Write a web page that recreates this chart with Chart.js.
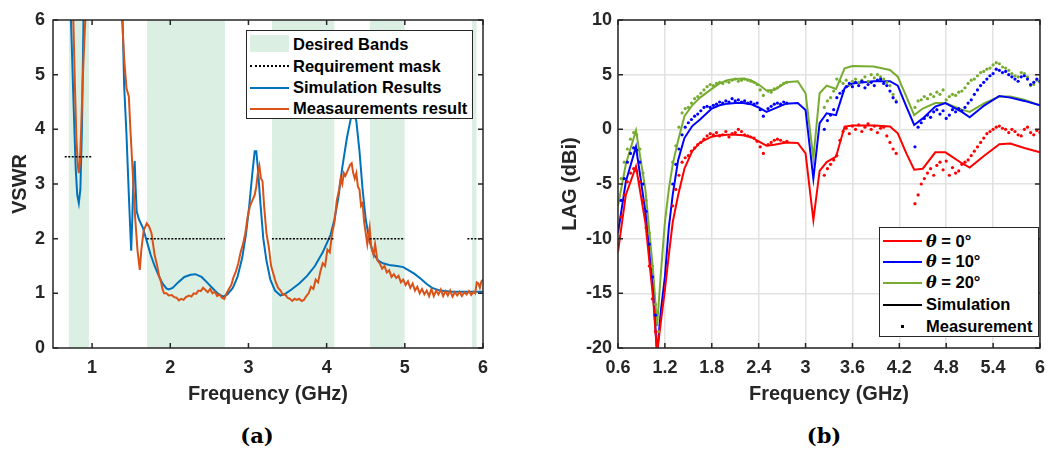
<!DOCTYPE html>
<html lang="pt-BR">
<head>
<meta charset="utf-8">
<title>VSWR e LAG</title>
<script src="https://cdn.jsdelivr.net/npm/chart.js@4.4.1/dist/chart.umd.min.js"></script>
<style>
    body { margin: 0; background: #fff; }
    #figura { position: relative; width: 1054px; height: 454px; overflow: hidden; font-family: 'Liberation Sans', Arial, sans-serif; color: #000; }
    #figura canvas { position: absolute; top: 0; }
    #graficoVswr { left: 0; }
    #graficoLag { left: 527px; }
    .legenda { position: absolute; background: #fff; border: 1.5px solid #262626; box-sizing: border-box; font-weight: bold; font-size: 16.5px; }
    .item { position: absolute; left: 0; right: 0; height: 21px; line-height: 21px; white-space: nowrap; }
    .item span.txt { position: absolute; left: 46px; top: 0; }
    .amostra { position: absolute; left: 3px; width: 39px; }
    .theta { font-family: 'DejaVu Serif', serif; font-style: italic; font-weight: bold; font-size: 16px; }
    .legenda-fig { position: absolute; top: 423px; font-family: 'DejaVu Serif', serif; font-weight: bold; font-size: 21px; width: 60px; text-align: center; }
</style>
</head>
<body>
<div id="figura">
    <canvas id="graficoVswr" width="527" height="410"></canvas>
    <canvas id="graficoLag" width="527" height="410"></canvas>

    <!-- legenda do gráfico (a) -->
    <div class="legenda" style="left:246px; top:30px; width:227px; height:89px;">
        <div class="item" style="top:3px;"><div class="amostra" style="top:0.5px; height:17px; background:#dbefe3;"></div><span class="txt">Desired Bands</span></div>
        <div class="item" style="top:24.5px;"><div class="amostra" style="top:9.5px; height:0; border-top:2px dotted #000;"></div><span class="txt">Requirement mask</span></div>
        <div class="item" style="top:46px;"><div class="amostra" style="top:9.5px; height:2px; background:#0072BD;"></div><span class="txt">Simulation Results</span></div>
        <div class="item" style="top:67px;"><div class="amostra" style="top:9.5px; height:2px; background:#D95319;"></div><span class="txt">Measaurements result</span></div>
    </div>

    <!-- legenda do gráfico (b) -->
    <div class="legenda" style="left:879px; top:227px; width:160px; height:110px;">
        <div class="item" style="top:2.5px;"><div class="amostra" style="top:9.5px; height:2px; background:#FF0000;"></div><span class="txt"><span class="theta">θ</span> = 0°</span></div>
        <div class="item" style="top:23px;"><div class="amostra" style="top:9.5px; height:2px; background:#0000FF;"></div><span class="txt"><span class="theta">θ</span> = 10°</span></div>
        <div class="item" style="top:44px;"><div class="amostra" style="top:9.5px; height:2px; background:#77AC30;"></div><span class="txt"><span class="theta">θ</span> = 20°</span></div>
        <div class="item" style="top:66px;"><div class="amostra" style="top:9.5px; height:2px; background:#000;"></div><span class="txt">Simulation</span></div>
        <div class="item" style="top:87.5px;"><div class="amostra" style="top:9px; left:21px; width:3px; height:3px; background:#000;"></div><span class="txt">Measurement</span></div>
    </div>

    <div class="legenda-fig" style="left:227px;">(a)</div>
    <div class="legenda-fig" style="left:794px;">(b)</div>
</div>

<script>
// ---------- Dados do gráfico (a): VSWR ----------
const ticksVswrX = [1, 2, 3, 4, 5, 6];
const ticksVswrY = [0, 1, 2, 3, 4, 5, 6];

// faixas desejadas (GHz)
const faixasDesejadas = [[0.70, 0.96], [1.70, 2.70], [3.30, 4.10], [4.55, 5.00], [5.86, 5.92]];

// máscara de requisito: [inicio, fim, VSWR]
const mascara = [[0.65, 1.00, 3.5], [1.70, 2.70, 2], [3.30, 4.10, 2], [4.55, 5.00, 2], [5.80, 6.00, 2]];

const simVswrFreq = [
    0.50, 0.70, 0.73, 0.76, 0.79, 0.81, 0.83, 0.85, 0.87, 0.89,
    0.92, 1.30, 1.39, 1.41, 1.44, 1.47, 1.49, 1.50, 1.515, 1.53,
    1.545, 1.555, 1.57, 1.60, 1.65, 1.70, 1.75, 1.80, 1.85, 1.90,
    1.95, 1.98, 2.03, 2.10, 2.18, 2.26, 2.32, 2.40, 2.47, 2.55,
    2.62, 2.68, 2.73, 2.80, 2.86, 2.92, 2.97, 3.01, 3.05, 3.08,
    3.10, 3.12, 3.15, 3.19, 3.23, 3.28, 3.34, 3.41, 3.48, 3.55,
    3.65, 3.75, 3.85, 3.95, 4.05, 4.10, 4.15, 4.20, 4.26, 4.31,
    4.35, 4.38, 4.42, 4.46, 4.50, 4.55, 4.60, 4.66, 4.72, 4.80,
    4.90, 4.98, 5.05, 5.12, 5.20, 5.28, 5.35, 5.45, 5.60, 5.80,
    6.00
];
const simVswr = [
    12, 8, 6, 4.6, 3.3, 2.8, 2.65, 2.9, 4.0, 6,
    8, 12, 6, 4.8, 3.9, 2.8, 2.1, 1.78, 2.4, 3.2,
    3.42, 3.0, 2.5, 2.35, 2.2, 1.95, 1.7, 1.5, 1.33, 1.18,
    1.09, 1.07, 1.1, 1.2, 1.3, 1.34, 1.35, 1.3, 1.2, 1.08,
    0.98, 0.94, 0.98, 1.1, 1.3, 1.65, 2.1, 2.6, 3.2, 3.6,
    3.6, 3.3, 2.7, 2.0, 1.6, 1.25, 1.05, 0.96, 1.0, 1.07,
    1.18, 1.32, 1.5, 1.75, 2.07, 2.35, 2.75, 3.3, 3.85, 4.2,
    4.3, 4.15, 3.6, 2.9, 2.35, 1.95, 1.72, 1.6, 1.55, 1.52,
    1.5, 1.48, 1.42, 1.36, 1.27, 1.17, 1.1, 1.05, 1.03, 1.03,
    1.03
];

const medVswrFreq = [
    0.50, 0.74, 0.76, 0.78, 0.80, 0.82, 0.83, 0.845, 0.86, 0.88,
    0.90, 0.92, 0.95, 1.33, 1.385, 1.41, 1.44, 1.47, 1.49, 1.52,
    1.55, 1.58, 1.61, 1.63, 1.66, 1.70, 1.73, 1.76, 1.78, 1.80,
    1.83, 1.86, 1.88, 1.90, 1.92, 1.95, 1.98, 2.02, 2.05, 2.08,
    2.11, 2.14, 2.17, 2.20, 2.24, 2.27, 2.30, 2.33, 2.36, 2.39,
    2.42, 2.45, 2.48, 2.51, 2.54, 2.57, 2.60, 2.63, 2.66, 2.69,
    2.72, 2.75, 2.78, 2.81, 2.84, 2.87, 2.90, 2.93, 2.96, 2.99,
    3.02, 3.05, 3.08, 3.10, 3.12, 3.14, 3.16, 3.18, 3.20, 3.23,
    3.26, 3.29, 3.32, 3.35, 3.38, 3.41, 3.44, 3.47, 3.50, 3.53,
    3.56, 3.59, 3.62, 3.65, 3.68, 3.71, 3.74, 3.77, 3.80, 3.83,
    3.86, 3.89, 3.92, 3.95, 3.98, 4.01, 4.04, 4.07, 4.10, 4.13,
    4.16, 4.18, 4.20, 4.22, 4.24, 4.27, 4.30, 4.32, 4.34, 4.36,
    4.38, 4.40, 4.42, 4.44, 4.46, 4.48, 4.50, 4.52, 4.55, 4.57,
    4.60, 4.62, 4.65, 4.68, 4.71, 4.74, 4.77, 4.80, 4.83, 4.86,
    4.89, 4.92, 4.95, 4.98, 5.01, 5.04, 5.07, 5.10, 5.13, 5.16,
    5.19, 5.22, 5.25, 5.28, 5.31, 5.34, 5.37, 5.40, 5.43, 5.46,
    5.49, 5.52, 5.55, 5.58, 5.61, 5.64, 5.67, 5.70, 5.73, 5.76,
    5.79, 5.82, 5.85, 5.88, 5.90, 5.92, 5.94, 5.96, 5.98, 6.00
];
const medVswr = [
    12, 8, 6, 4.8, 3.8, 3.3, 3.2, 3.4, 4.0, 4.9,
    5.6, 6.2, 8, 9, 6, 5.3, 4.75, 4.6, 4.0, 3.2,
    2.4, 1.8, 1.43, 1.8, 2.15, 2.28, 2.22, 2.1, 1.9, 1.7,
    1.52, 1.3, 1.22, 1.08, 1.0, 1.0, 0.96, 0.97, 0.93, 0.92,
    0.87, 0.9, 0.88, 0.93, 0.96, 0.94, 1.0, 0.99, 1.05, 1.04,
    1.1, 1.06, 1.02, 1.08, 1.0, 1.03, 0.95, 0.98, 0.92, 0.9,
    1.0, 1.08, 1.15, 1.3, 1.4, 1.55, 1.75, 1.9, 2.1, 2.4,
    2.6, 2.7, 2.8, 2.95, 3.2, 3.33, 3.1, 3.05, 2.6, 2.1,
    1.85, 1.5, 1.35, 1.2, 1.1, 1.05, 0.97, 0.98, 0.92, 0.9,
    0.86, 0.9, 0.88, 0.9, 0.86, 0.88, 0.95, 1.0, 1.12, 1.08,
    1.25, 1.2, 1.4, 1.55, 1.5, 1.8, 1.75, 2.1, 2.3, 2.7,
    2.9, 3.1, 3.0, 3.2, 3.15, 3.25, 3.35, 3.38, 3.2, 3.1,
    3.2, 2.95, 2.9, 2.6, 2.65, 2.3, 2.1, 1.9, 2.2, 1.85,
    1.7, 1.9, 1.6, 1.55, 1.45, 1.5, 1.38, 1.42, 1.3, 1.35,
    1.28, 1.32, 1.2, 1.25, 1.15, 1.22, 1.1, 1.18, 1.05, 1.12,
    1.0, 1.08, 0.98, 1.05, 0.95, 1.08, 0.95, 1.05, 0.98, 1.07,
    0.95, 1.04, 0.96, 1.05, 0.94, 1.02, 0.96, 1.03, 0.95, 1.02,
    0.98, 1.04, 0.97, 1.03, 1.0, 1.2, 1.18, 1.1, 1.22, 1.25
];

// ---------- Dados do gráfico (b): LAG ----------
const ticksLagX = [0.6, 1.2, 1.8, 2.4, 3, 3.6, 4.2, 4.8, 5.4, 6];
const ticksLagY = [-20, -15, -10, -5, 0, 5, 10];

const simLagFreq = [
    0.60, 0.70, 0.83, 0.95, 1.05, 1.10, 1.15, 1.20, 1.25, 1.30,
    1.37, 1.45, 1.55, 1.65, 1.80, 1.90, 2.00, 2.10, 2.20, 2.30,
    2.40, 2.50, 2.60, 2.75, 2.90, 3.00, 3.10, 3.18, 3.27, 3.39,
    3.50, 3.60, 3.87, 4.08, 4.18, 4.29, 4.39, 4.50, 4.66, 4.79,
    5.00, 5.10, 5.29, 5.48, 5.62, 5.80, 6.00
];
const simLag0 = [
    -11.2, -6.0, -3.4, -8.5, -15.5, -20.5, -17.5, -14.7, -11.5, -8.5,
    -6.0, -3.6, -2.0, -1.2, -0.67, -0.55, -0.5, -0.5, -0.55, -0.7,
    -1.1, -1.5, -1.4, -1.2, -1.25, -2.2, -8.3, -3.8, -3.0, -2.5,
    0.25, 0.35, 0.35, 0.25, -0.36, -2.2, -3.7, -3.6, -2.1, -2.1,
    -3.1, -3.5, -2.4, -1.36, -1.3, -1.7, -2.1
];
const simLag10 = [
    -9.5, -4.8, -1.6, -7.5, -15, -20.5, -16.5, -13.5, -9, -6,
    -2.8, -0.8, 0.3, 0.9, 1.9, 2.2, 2.35, 2.4, 2.4, 2.3,
    2.0, 1.6, 1.9, 2.35, 2.4, 1.77, -4.5, 0.56, 1.47, 1.3,
    3.76, 4.2, 4.4, 4.4, 4.0, 2.08, 0.4, 1.0, 2.08, 2.4,
    1.6, 1.1, 2.2, 3.05, 2.9, 2.6, 2.2
];
const simLag20 = [
    -7.0, -3.2, -0.1, -5.5, -13, -18, -13, -8.5, -5.5, -3.2,
    -1.0, 1.2, 2.2, 2.9, 3.7, 4.2, 4.5, 4.6, 4.65, 4.5,
    4.1, 3.55, 3.6, 4.3, 4.4, 3.3, -2.65, 3.3, 4.0, 3.7,
    5.58, 5.8, 5.75, 5.43, 4.82, 3.0, 1.3, 1.9, 2.4, 2.4,
    1.8, 1.6, 2.4, 3.0, 3.0, 2.7, 2.2
];

const medLagFreq = [
    0.60, 0.64, 0.68, 0.72, 0.76, 0.80, 0.84, 0.88, 0.92, 0.96, 1.00, 1.04, 1.08, 1.12,
    1.30, 1.34, 1.38, 1.42, 1.46, 1.50, 1.54, 1.58, 1.62, 1.66,
    1.70, 1.74, 1.78, 1.82, 1.86, 1.90, 1.94, 1.98, 2.02, 2.06,
    2.10, 2.14, 2.18, 2.22, 2.26, 2.30, 2.34, 2.38, 2.42, 2.46,
    2.52, 2.56, 2.60, 2.64, 2.68, 2.72, 2.76,
    3.24, 3.28, 3.32, 3.36, 3.40, 3.44, 3.48, 3.52, 3.56, 3.60,
    3.64, 3.68, 3.72, 3.76, 3.80, 3.84, 3.88, 3.92, 3.96, 4.00,
    4.04, 4.08, 4.12, 4.16,
    4.40, 4.44, 4.48, 4.52, 4.56, 4.60, 4.64, 4.68, 4.72, 4.76,
    4.80, 4.84, 4.88, 4.92, 4.96, 5.00, 5.04, 5.08, 5.12, 5.16,
    5.20, 5.24, 5.28, 5.32, 5.36, 5.40, 5.44, 5.48, 5.52, 5.56,
    5.60, 5.64, 5.68, 5.72, 5.76, 5.80, 5.84, 5.88, 5.92, 5.96,
    6.00
];
const medLag0 = [
    -10.6, -8.0, -6.0, -4.8, -4.0, -3.6, -3.8, -4.8, -6.5, -9.0, -12.5, -15.5, -18.5, -20.5,
    -7.0, -5.5, -4.2, -3.0, -2.6, -2.4, -2.0, -1.7, -1.4, -1.2,
    -0.9, -0.6, -0.4, -0.5, -0.3, -0.6, -0.5, -0.2, -0.7, -0.4,
    -0.3, 0.0, -0.2, -0.5, -0.6, -0.7, -0.8, -1.1, -1.6, -2.2,
    -1.4, -1.2, -1.0, -0.9, -1.0, -1.2, -1.1,
    -4.2, -3.6, -3.2, -2.8, -2.4, -1.0, -0.2, 0.1, -0.4, 0.3,
    0.0, 0.4, -0.2, 0.2, 0.5, 0.0, 0.3, -0.3, 0.1, 0.2,
    -0.6, -1.2, -1.8, -2.2,
    -6.8, -6.0, -5.0, -4.5, -4.0, -3.6, -4.2, -3.3, -3.0, -3.7,
    -2.9, -4.2, -3.5, -4.0, -3.8, -3.2, -3.0, -2.8, -2.4, -2.0,
    -1.6, -1.2, -0.8, -0.4, -0.2, 0.0, 0.2, 0.3, 0.1, 0.0,
    -0.3, 0.0, -0.2, -0.5, -0.6, 0.0, 0.2, -0.3, -0.5, -0.1,
    -0.3
];
const medLag10 = [
    -8.8, -6.5, -4.5, -3.0, -2.2, -1.7, -1.9, -3.0, -5.0, -7.5, -10.5, -13.5, -17.0, -20.5,
    -5.0, -3.2, -1.8, -0.5, 0.2, 0.6, 0.9, 1.2, 1.4, 1.7,
    2.0, 2.1, 2.0, 2.2, 2.3, 2.5, 2.4, 2.6, 2.5, 2.8,
    2.6, 2.7, 2.5, 2.6, 2.4, 2.5, 2.3, 2.4, 1.8, 1.2,
    1.9, 2.1, 2.3, 2.4, 2.3, 2.5, 2.4,
    0.0, 0.8, 1.3, 1.8, 2.9, 3.3, 3.5, 3.9, 4.2, 3.9,
    4.3, 4.0, 4.4, 3.8, 4.1, 4.3, 4.0, 4.5, 4.6, 4.2,
    4.0, 3.5, 2.9, 2.5,
    -1.6, 0.2, 0.6, 1.0, 1.3, 1.1, 1.6, 1.8, 1.4, 1.7,
    1.0, 1.3, 1.8, 1.6, 1.9, 1.7, 2.0, 2.4, 2.7, 3.2,
    3.6, 4.0, 4.3, 4.6, 4.9, 5.1, 5.5, 5.4, 5.2, 5.3,
    5.0, 4.8, 4.6, 4.4, 4.8, 4.9, 4.6, 4.1, 4.3, 4.6,
    4.4
];
const medLag20 = [
    -6.5, -4.5, -3.0, -1.8, -0.9, -0.3, -0.5, -1.8, -4.0, -6.5, -9.5, -12.5, -16.0, -18.5,
    -3.0, -1.5, 0.2, 1.5, 1.9, 2.0, 2.4, 2.8, 3.0, 3.3,
    3.6, 3.9, 4.1, 4.0, 4.2, 4.3, 4.2, 4.4, 4.3, 4.5,
    4.6, 4.4, 4.5, 4.6, 4.5, 4.4, 4.3, 4.1, 3.6, 3.1,
    3.5, 3.4, 3.7, 3.8, 4.0, 4.2, 4.3,
    2.0, 2.6, 2.9, 3.5, 4.6, 4.4, 4.2, 4.5, 4.1, 4.4,
    4.6, 4.3, 4.5, 4.8, 4.4, 5.0, 4.7, 5.0, 4.8, 4.6,
    4.3, 4.0, 3.2, 2.6,
    2.0, 2.6, 2.7, 3.0, 2.8, 3.2, 3.0, 3.4, 3.2, 3.6,
    2.7, 3.0, 3.2, 3.1, 3.4, 3.5, 3.8, 4.2, 4.5, 4.6,
    4.9, 5.2, 5.3, 5.5, 5.6, 5.9, 6.1, 6.0, 5.7, 5.6,
    5.4, 5.1, 4.9, 4.8, 5.2, 5.1, 4.8, 4.0, 4.1, 4.5,
    4.3
];

// ---------- Funções auxiliares ----------
function juntarPontos(xs, ys) {
    return xs.map((x, i) => ({ x: x, y: ys[i] }));
}

const corTexto = '#262626';
const fonteTick = { family: "'Liberation Sans', Arial, sans-serif", size: 18, weight: 'bold' };
const fonteTitulo = { family: "'Liberation Sans', Arial, sans-serif", size: 20, weight: 'bold' };

// Desenha a moldura do eixo com as marcas para dentro (estilo MATLAB)
const pluginMoldura = {
    id: 'moldura',
    afterDatasetsDraw(chart) {
        const { ctx, chartArea: a, scales } = chart;
        const tam = 5;
        ctx.save();
        ctx.strokeStyle = corTexto;
        ctx.lineWidth = 1.5;
        ctx.beginPath();
        scales.x.ticks.forEach(t => {
            const px = scales.x.getPixelForValue(t.value);
            ctx.moveTo(px, a.bottom); ctx.lineTo(px, a.bottom - tam);
            ctx.moveTo(px, a.top); ctx.lineTo(px, a.top + tam);
        });
        scales.y.ticks.forEach(t => {
            const py = scales.y.getPixelForValue(t.value);
            ctx.moveTo(a.left, py); ctx.lineTo(a.left + tam, py);
            ctx.moveTo(a.right, py); ctx.lineTo(a.right - tam, py);
        });
        ctx.stroke();
        ctx.strokeRect(a.left, a.top, a.right - a.left, a.bottom - a.top);
        ctx.restore();
    }
};

// ---------- Gráfico (a) ----------
const datasetsVswr = [];

// máscara: trechos separados por null
const pontosMascara = [];
mascara.forEach(m => {
    pontosMascara.push({ x: m[0], y: m[2] }, { x: m[1], y: m[2] }, { x: m[1], y: null });
});
datasetsVswr.push({
    label: 'Requirement mask',
    data: pontosMascara,
    borderColor: '#000',
    borderWidth: 1.5,
    borderDash: [2, 1.5],
    pointRadius: 0,
    spanGaps: false,
    order: 0
});
datasetsVswr.push({
    label: 'Measaurements result',
    data: juntarPontos(medVswrFreq, medVswr),
    borderColor: '#D95319',
    borderWidth: 2,
    pointRadius: 0,
    order: 1
});
datasetsVswr.push({
    label: 'Simulation Results',
    data: juntarPontos(simVswrFreq, simVswr),
    borderColor: '#0072BD',
    borderWidth: 2,
    pointRadius: 0,
    order: 2
});
faixasDesejadas.forEach((f, i) => {
    datasetsVswr.push({
        label: 'Desired Bands ' + i,
        data: [{ x: f[0], y: 6 }, { x: f[1], y: 6 }],
        borderWidth: 0,
        pointRadius: 0,
        backgroundColor: '#dbefe3',
        fill: 'origin',
        order: 10
    });
});

const graficoVswr = new Chart(document.getElementById('graficoVswr').getContext('2d'), {
    type: 'line',
    data: { datasets: datasetsVswr },
    options: {
        responsive: false,
        animation: false,
        clip: 0,
        layout: { padding: { left: 4, top: 20, right: 44, bottom: 0 } },
        plugins: { legend: { display: false }, tooltip: { enabled: false } },
        scales: {
            x: {
                type: 'linear',
                min: 0.5,
                max: 6,
                afterBuildTicks: s => { s.ticks = ticksVswrX.map(v => ({ value: v })); },
                afterFit: s => { s.height = 62; },
                grid: { display: false, drawTicks: false },
                border: { display: false },
                ticks: { color: corTexto, font: fonteTick, padding: 9, maxRotation: 0, callback: v => String(v) },
                title: { display: true, text: 'Frequency (GHz)', color: corTexto, font: fonteTitulo }
            },
            y: {
                type: 'linear',
                min: 0,
                max: 6,
                afterBuildTicks: s => { s.ticks = ticksVswrY.map(v => ({ value: v })); },
                afterFit: s => { s.width = 49; },
                grid: { display: false, drawTicks: false },
                border: { display: false },
                ticks: { color: corTexto, font: fonteTick, padding: 8, callback: v => String(v) },
                title: { display: true, text: 'VSWR', color: corTexto, font: fonteTitulo }
            }
        }
    },
    plugins: [pluginMoldura]
});

// ---------- Gráfico (b) ----------
const coresLag = ['#FF0000', '#0000FF', '#77AC30'];
const simSeries = [simLag0, simLag10, simLag20];
const medSeries = [medLag0, medLag10, medLag20];
const datasetsLag = [];

[0, 1, 2].forEach(i => {
    datasetsLag.push({
        label: 'Simulação ' + i,
        data: juntarPontos(simLagFreq, simSeries[i]),
        borderColor: coresLag[i],
        borderWidth: 2,
        pointRadius: 0,
        order: 3 + i
    });
    datasetsLag.push({
        label: 'Medição ' + i,
        data: juntarPontos(medLagFreq, medSeries[i]),
        showLine: false,
        pointRadius: 1.6,
        pointBorderWidth: 0,
        pointBackgroundColor: coresLag[i],
        order: i
    });
});

const graficoLag = new Chart(document.getElementById('graficoLag').getContext('2d'), {
    type: 'line',
    data: { datasets: datasetsLag },
    options: {
        responsive: false,
        animation: false,
        clip: 0,
        layout: { padding: { left: 27, top: 20, right: 4.5, bottom: 0 } },
        plugins: { legend: { display: false }, tooltip: { enabled: false } },
        scales: {
            x: {
                type: 'linear',
                min: 0.6,
                max: 6,
                afterBuildTicks: s => { s.ticks = ticksLagX.map(v => ({ value: v })); },
                afterFit: s => { s.height = 62; },
                grid: { color: '#e2e2e2', lineWidth: 1.5, drawTicks: false },
                border: { display: false },
                ticks: { color: corTexto, font: fonteTick, padding: 9, maxRotation: 0, callback: v => String(v) },
                title: { display: true, text: 'Frequency (GHz)', color: corTexto, font: fonteTitulo }
            },
            y: {
                type: 'linear',
                min: -20,
                max: 10,
                afterBuildTicks: s => { s.ticks = ticksLagY.map(v => ({ value: v })); },
                afterFit: s => { s.width = 64; },
                grid: { color: '#e2e2e2', lineWidth: 1.5, drawTicks: false },
                border: { display: false },
                ticks: { color: corTexto, font: fonteTick, padding: 6, callback: v => String(v) },
                title: { display: true, text: 'LAG (dBi)', color: corTexto, font: fonteTitulo }
            }
        }
    },
    plugins: [pluginMoldura]
});
</script>
</body>
</html>
